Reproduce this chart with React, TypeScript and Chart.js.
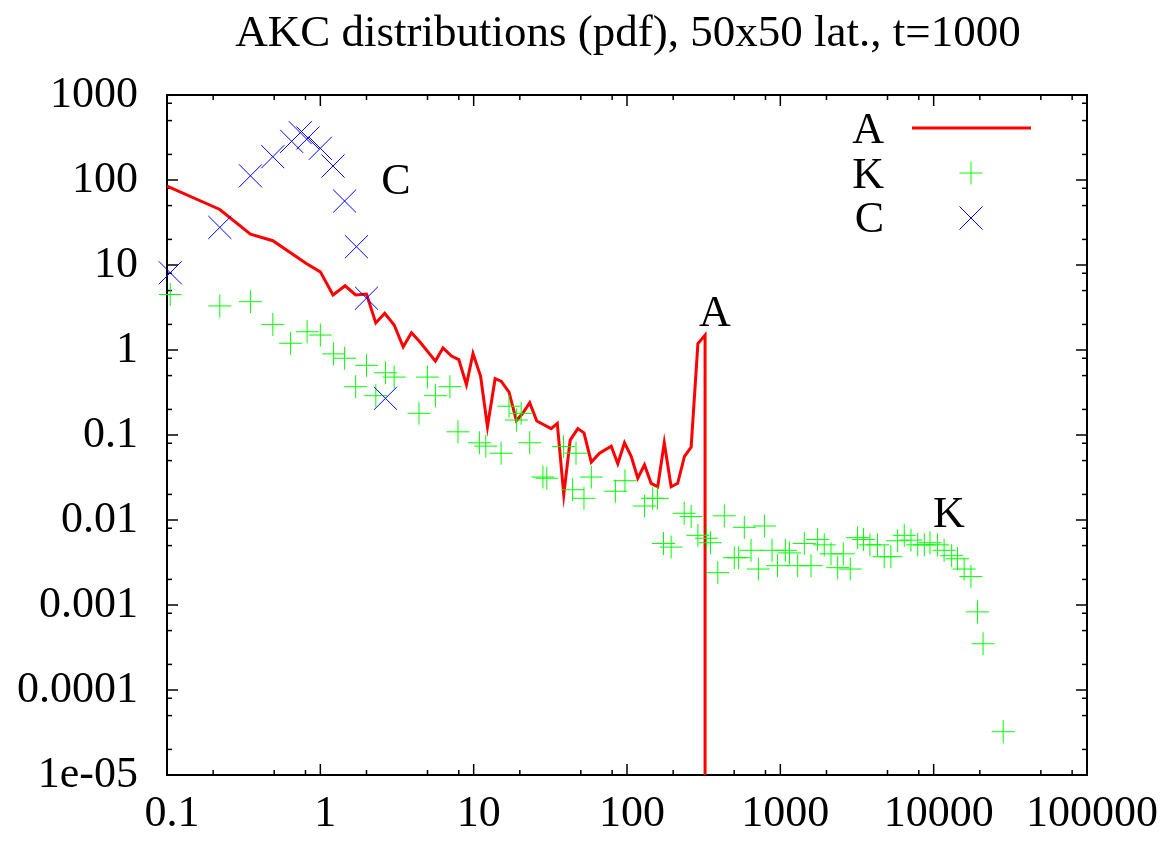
import React, { useEffect, useRef } from "react";
import { Chart, registerables } from "chart.js";

Chart.register(...registerables);

const titleText = "AKC distributions (pdf), 50x50 lat., t=1000";

const xTickValues = [0.1, 1, 10, 100, 1000, 10000, 100000];
const xTickLabels = ["0.1", "1", "10", "100", "1000", "10000", "100000"];
const yTickValues = [1e-5, 1e-4, 1e-3, 0.01, 0.1, 1, 10, 100, 1000];
const yTickLabels = ["1e-05", "0.0001", "0.001", "0.01", "0.1", "1", "10", "100", "1000"];
const minorMultipliers = [2, 5, 8];

// Series A (red line)
const aX = [0.1, 0.221, 0.35, 0.49, 0.81, 1.0, 1.21, 1.45, 1.7, 2.0, 2.3, 2.63, 3.03, 3.47, 3.93, 4.45, 5.63, 6.31, 7.16, 8.0, 8.97, 9.9, 11.1, 12.3, 13.8, 15.1, 17, 19, 20.9, 23.2, 25.8, 32, 35.1, 38.7, 42.6, 47.8, 52.4, 58.5, 66.2, 78.9, 87.1, 96.3, 106.5, 117.6, 130, 143.7, 158.6, 175, 194, 214, 237, 262, 290, 323, 323];
const aY = [85, 45, 23, 19.3, 10.4, 8.3, 4.45, 5.7, 4.45, 4.55, 2.08, 2.7, 1.97, 1.09, 1.6, 1.25, 0.74, 1.06, 0.85, 0.77, 0.39, 0.91, 0.49, 0.125, 0.46, 0.43, 0.32, 0.148, 0.18, 0.24, 0.146, 0.119, 0.137, 0.0199, 0.087, 0.119, 0.106, 0.048, 0.061, 0.074, 0.046, 0.081, 0.056, 0.031, 0.0445, 0.027, 0.0246, 0.081, 0.0246, 0.027, 0.056, 0.072, 1.19, 1.5, 1e-9];

// Series K (green plus)
const kX = [0.105, 0.221, 0.35, 0.49, 0.64, 0.82, 1.0, 1.22, 1.44, 1.7, 2.0, 2.3, 2.66, 3.03, 4.4, 4.99, 5.63, 7.0, 7.9, 10.9, 12.0, 15.1, 17, 19, 20.4, 23.2, 28.3, 30, 38.6, 44.2, 46.5, 52.4, 58.5, 84, 97, 130, 147, 158, 173, 194, 236, 262, 290, 330, 350, 391, 431, 501, 535, 582, 644, 719, 787, 883, 959, 1078, 1147, 1298, 1433, 1585, 1750, 1934, 2140, 2366, 2573, 2858, 3190, 3490, 3840, 4305, 4760, 5260, 5820, 6430, 7110, 7870, 8690, 9460, 10600, 11700, 13100, 14300, 15800, 17500, 19300, 21000, 28400];
const kY = [4.5, 3.3, 3.7, 2.0, 1.2, 1.64, 1.5, 0.9, 0.8, 0.37, 0.66, 0.29, 0.54, 0.48, 0.18, 0.48, 0.29, 0.37, 0.109, 0.081, 0.074, 0.061, 0.218, 0.15, 0.18, 0.081, 0.032, 0.031, 0.073, 0.0227, 0.061, 0.018, 0.032, 0.0218, 0.029, 0.0146, 0.018, 0.018, 0.0053, 0.0048, 0.012, 0.011, 0.0066, 0.0061, 0.0054, 0.0024, 0.0112, 0.0036, 0.0036, 0.0082, 0.0044, 0.00265, 0.0085, 0.0044, 0.0029, 0.0044, 0.0041, 0.0029, 0.0053, 0.0029, 0.0059, 0.0051, 0.004, 0.00275, 0.004, 0.00265, 0.0062, 0.0059, 0.0051, 0.0051, 0.0037, 0.0037, 0.0057, 0.0066, 0.0058, 0.0051, 0.0051, 0.0054, 0.0051, 0.0044, 0.0038, 0.0035, 0.00265, 0.00216, 0.00083, 0.00035, 0.0000323];

// Series C (blue x)
const cX = [0.105, 0.221, 0.35, 0.49, 0.65, 0.74, 0.83, 1.0, 1.21, 1.44, 1.72, 2.0, 2.66];
const cY = [8.1, 27.7, 112, 188, 285, 360, 312, 236, 146, 56.5, 16.4, 4.07, 0.27];

const seriesNames = ["A", "K", "C"];
const seriesColors = ["#ff0000", "#00ff00", "#0000ff"];

const FONT_FAMILY = '"Liberation Serif", "Times New Roman", serif';
const FONT = `44px ${FONT_FAMILY}`;
const TITLE_FONT = `45px ${FONT_FAMILY}`;

const toPoints = (xs: number[], ys: number[]) => xs.map((x, i) => ({ x, y: ys[i] }));

const framePlugin = {
  id: "gnuFrame",
  beforeDatasetsDraw(chart: any) {
    const { ctx, chartArea, scales } = chart;
    const { left, right, top, bottom } = chartArea;
    const xs = scales.x;
    const ys = scales.y;
    ctx.save();
    ctx.strokeStyle = "#000";
    ctx.lineWidth = 1.5;
    const seg = (x1: number, y1: number, x2: number, y2: number) => {
      ctx.beginPath();
      ctx.moveTo(x1, y1);
      ctx.lineTo(x2, y2);
      ctx.stroke();
    };
    const xTick = (v: number, len: number) => {
      const p = xs.getPixelForValue(v);
      seg(p, bottom, p, bottom - len);
      seg(p, top, p, top + len);
    };
    const yTick = (v: number, len: number) => {
      const p = ys.getPixelForValue(v);
      seg(left, p, left + len, p);
      seg(right, p, right - len, p);
    };
    xTickValues.forEach((v, i) => {
      xTick(v, 11);
      if (i < xTickValues.length - 1) minorMultipliers.forEach((m) => xTick(v * m, 5));
    });
    yTickValues.forEach((v, i) => {
      yTick(v, 11);
      if (i < yTickValues.length - 1) minorMultipliers.forEach((m) => yTick(v * m, 5));
    });
    ctx.lineWidth = 2;
    ctx.strokeRect(left, top, right - left, bottom - top);
    ctx.restore();
  },
  afterDraw(chart: any) {
    const { ctx, chartArea } = chart;
    const ds = chart.data.datasets;
    ctx.save();
    ctx.fillStyle = "#000";
    ctx.textBaseline = "alphabetic";
    ctx.textAlign = "center";
    ctx.font = TITLE_FONT;
    ctx.fillText(titleText, (chartArea.left + chartArea.right) / 2 + 1, 46);
    ctx.font = FONT;
    // in-plot labels
    ctx.fillText(seriesNames[2], 396, 194);
    ctx.fillText(seriesNames[0], 715, 326);
    ctx.fillText(seriesNames[1], 949, 527);
    // legend
    ctx.textAlign = "right";
    const rows = [143, 188, 232];
    const mid = [128, 173, 218];
    ds.forEach((d: any, i: number) => {
      ctx.fillStyle = "#000";
      ctx.fillText(d.label, 884, rows[i]);
    });
    // A line sample
    ctx.strokeStyle = seriesColors[0];
    ctx.lineWidth = 3;
    ctx.beginPath();
    ctx.moveTo(912, mid[0]);
    ctx.lineTo(1031, mid[0]);
    ctx.stroke();
    // K plus
    ctx.lineWidth = 1;
    ctx.strokeStyle = seriesColors[1];
    const h = 11.5;
    ctx.beginPath();
    ctx.moveTo(971 - h, mid[1]);
    ctx.lineTo(971 + h, mid[1]);
    ctx.moveTo(971, mid[1] - h);
    ctx.lineTo(971, mid[1] + h);
    ctx.stroke();
    // C cross
    ctx.strokeStyle = seriesColors[2];
    ctx.beginPath();
    ctx.moveTo(971 - h, mid[2] - h);
    ctx.lineTo(971 + h, mid[2] + h);
    ctx.moveTo(971 + h, mid[2] - h);
    ctx.lineTo(971 - h, mid[2] + h);
    ctx.stroke();
    ctx.restore();
  },
};

export default function App() {
  const ref = useRef<HTMLCanvasElement | null>(null);
  useEffect(() => {
    if (!ref.current) return;
    const chart = new Chart(ref.current, {
      type: "scatter",
      data: {
        datasets: [
          {
            label: seriesNames[0],
            data: toPoints(aX, aY),
            showLine: true,
            borderColor: seriesColors[0],
            backgroundColor: seriesColors[0],
            borderWidth: 3,
            pointRadius: 0,
            tension: 0,
            order: 3,
          },
          {
            label: seriesNames[1],
            data: toPoints(kX, kY),
            showLine: false,
            pointStyle: "cross",
            pointRadius: 11.5,
            pointBorderWidth: 1,
            borderColor: seriesColors[1],
            backgroundColor: seriesColors[1],
            clip: false,
            order: 2,
          },
          {
            label: seriesNames[2],
            data: toPoints(cX, cY),
            showLine: false,
            pointStyle: "crossRot",
            pointRadius: 16.3,
            pointBorderWidth: 1,
            borderColor: seriesColors[2],
            backgroundColor: seriesColors[2],
            clip: false,
            order: 1,
          },
        ] as any,
      },
      options: {
        animation: false,
        responsive: false,
        maintainAspectRatio: false,
        devicePixelRatio: 1,
        layout: { padding: { top: 95, right: 79, left: 0, bottom: 0 } },
        plugins: {
          legend: { display: false },
          title: { display: false },
          tooltip: { enabled: false },
        },
        scales: {
          x: {
            type: "logarithmic",
            min: 0.1,
            max: 100000,
            grid: { display: false, drawTicks: false },
            border: { display: false },
            afterBuildTicks: (scale: any) => {
              scale.ticks = xTickValues.map((v) => ({ value: v }));
            },
            afterFit: (scale: any) => {
              scale.height = 70;
            },
            ticks: {
              autoSkip: false,
              maxRotation: 0,
              minRotation: 0,
              padding: 13,
              labelOffset: 5,
              color: "#000",
              font: { family: FONT_FAMILY, size: 44 },
              callback: (_v: any, i: number) => xTickLabels[i],
            },
          },
          y: {
            type: "logarithmic",
            min: 1e-5,
            max: 1000,
            grid: { display: false, drawTicks: false },
            border: { display: false },
            afterBuildTicks: (scale: any) => {
              scale.ticks = yTickValues.map((v) => ({ value: v }));
            },
            afterFit: (scale: any) => {
              scale.width = 167;
            },
            ticks: {
              autoSkip: false,
              padding: 29,
              color: "#000",
              font: { family: FONT_FAMILY, size: 44 },
              callback: (_v: any, i: number) => yTickLabels[i],
            },
          },
        },
      } as any,
      plugins: [framePlugin],
    });
    return () => chart.destroy();
  }, []);
  return (
    <div style={{ position: "absolute", left: 0, top: 0, width: 1166, height: 845, background: "#fff" }}>
      <canvas ref={ref} width={1166} height={845} style={{ display: "block", width: 1166, height: 845 }} />
    </div>
  );
}
